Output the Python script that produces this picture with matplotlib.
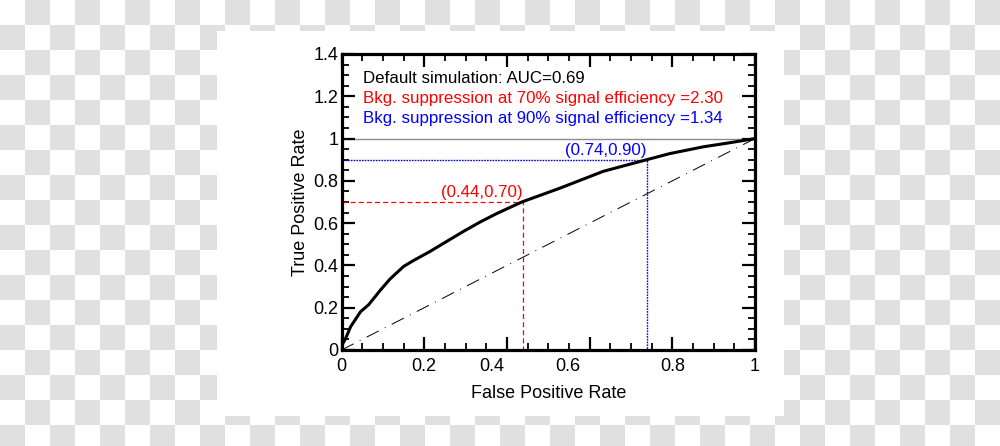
import numpy as np
import matplotlib
matplotlib.use("Agg")
import matplotlib.pyplot as plt
from matplotlib.patches import Rectangle
from matplotlib.transforms import ScaledTranslation

plt.rcParams["font.family"] = ["Liberation Sans", "DejaVu Sans"]

# ── Data ────────────────────────────────────────────────────────────────────
fpr = [0.000, 0.003, 0.010, 0.022, 0.046, 0.066, 0.094, 0.117, 0.150, 0.174,
       0.214, 0.254, 0.295, 0.335, 0.375, 0.436, 0.529, 0.633, 0.738, 0.794,
       0.875, 0.935, 1.000]
tpr = [0.000, 0.030, 0.055, 0.110, 0.181, 0.215, 0.283, 0.335, 0.395, 0.423,
       0.466, 0.513, 0.561, 0.605, 0.645, 0.700, 0.766, 0.845, 0.900, 0.929,
       0.961, 0.979, 1.000]

wp70 = (0.44, 0.70)   # working point at 70% signal efficiency
wp90 = (0.74, 0.90)   # working point at 90% signal efficiency

info_lines = [
    ("Default simulation: AUC=0.69", "black"),
    ("Bkg. suppression at 70% signal efficiency =2.30", "red"),
    ("Bkg. suppression at 90% signal efficiency =1.34", "blue"),
]
xticks = [0, 0.2, 0.4, 0.6, 0.8, 1]
xtick_labels = ["0", "0.2", "0.4", "0.6", "0.8", "1"]
yticks = [0, 0.2, 0.4, 0.6, 0.8, 1, 1.2, 1.4]
ytick_labels = ["0", "0.2", "0.4", "0.6", "0.8", "1", "1.2", "1.4"]
# ────────────────────────────────────────────────────────────────────────────

W, H = 1000, 446
fig = plt.figure(figsize=(W / 100, H / 100), dpi=100)

# transparent-style checkerboard backdrop with the white card on top
bg = fig.add_axes([0, 0, 1, 1])
cell = 25
ny, nx = int(np.ceil(H / cell)), int(np.ceil(W / cell))
yy, xx = np.mgrid[0:ny, 0:nx]
checker = ((xx + yy) % 2).astype(float)
bg.imshow(checker, cmap=matplotlib.colors.ListedColormap(["white", "#e0e0e0"]),
          extent=(0, nx * cell, ny * cell, 0), interpolation="nearest", aspect="auto")
bg.add_patch(Rectangle((217, 31), 567, 385, facecolor="white", edgecolor="none"))
bg.set_xlim(0, W)
bg.set_ylim(H, 0)
bg.axis("off")

ax = fig.add_axes([341.5 / W, (H - 350) / H, 413.5 / W, 296 / H])
ax.set_facecolor("white")

# reference lines
ax.axhline(1.0, color="#8c8c8c", lw=1.0, zorder=1)
ax.plot([0, 1], [0, 1], color="black", lw=0.7, ls=(0, (14, 7, 1, 7)), zorder=2)

# working points
ax.plot([0, wp70[0], wp70[0]], [wp70[1], wp70[1], 0], color="red", lw=0.9,
        ls=(0, (4, 2.5)), zorder=2)
ax.plot([0, wp90[0], wp90[0]], [wp90[1], wp90[1], 0], color="blue", lw=1.0,
        ls=(0, (1.2, 0.8)), zorder=2)

# ROC curve
ax.plot(fpr, tpr, color="black", lw=2.2, solid_joinstyle="round", zorder=3)

ax.text(wp70[0] - 0.003, wp70[1] + 0.022, "(%.2f,%.2f)" % wp70, color="red",
        fontsize=12.2, ha="right", va="baseline")
ax.text(wp90[0] - 0.003, wp90[1] + 0.022, "(%.2f,%.2f)" % wp90, color="blue",
        fontsize=12.2, ha="right", va="baseline")

for i, (txt, col) in enumerate(info_lines):
    ax.text(0.053, 1.262 - 0.095 * i, txt, color=col, fontsize=12.2,
            ha="left", va="baseline")

ax.set_xlim(0, 1)
ax.set_ylim(0, 1.4)
ax.set_xticks(xticks)
ax.set_xticklabels(xtick_labels)
ax.set_yticks(yticks)
ax.set_yticklabels(ytick_labels)
ax.set_xticks(np.arange(0, 1.0001, 0.05), minor=True)
ax.set_yticks(np.arange(0, 1.4001, 0.05), minor=True)

ax.tick_params(which="both", direction="in", top=True, right=True, colors="black")
ax.tick_params(which="major", length=9.5, width=1.6, labelsize=13)
ax.tick_params(which="minor", length=5, width=1.3)
ax.tick_params(axis="x", which="major", pad=6)
ax.tick_params(axis="y", which="major", pad=2)

for s in ax.spines.values():
    s.set_linewidth(2.3)

# the reference has the 0.4 and 0.6 labels sitting left of their ticks
xlabels = ax.get_xticklabels()
for lab, dx in ((xlabels[2], -15), (xlabels[3], -22)):
    lab.set_transform(lab.get_transform() + ScaledTranslation(dx / 100, 0, fig.dpi_scale_trans))

ax.set_xlabel("False Positive Rate", fontsize=13, labelpad=7)
ax.set_ylabel("True Positive Rate", fontsize=13, labelpad=3.5)

fig.savefig("out.png", dpi=100)
